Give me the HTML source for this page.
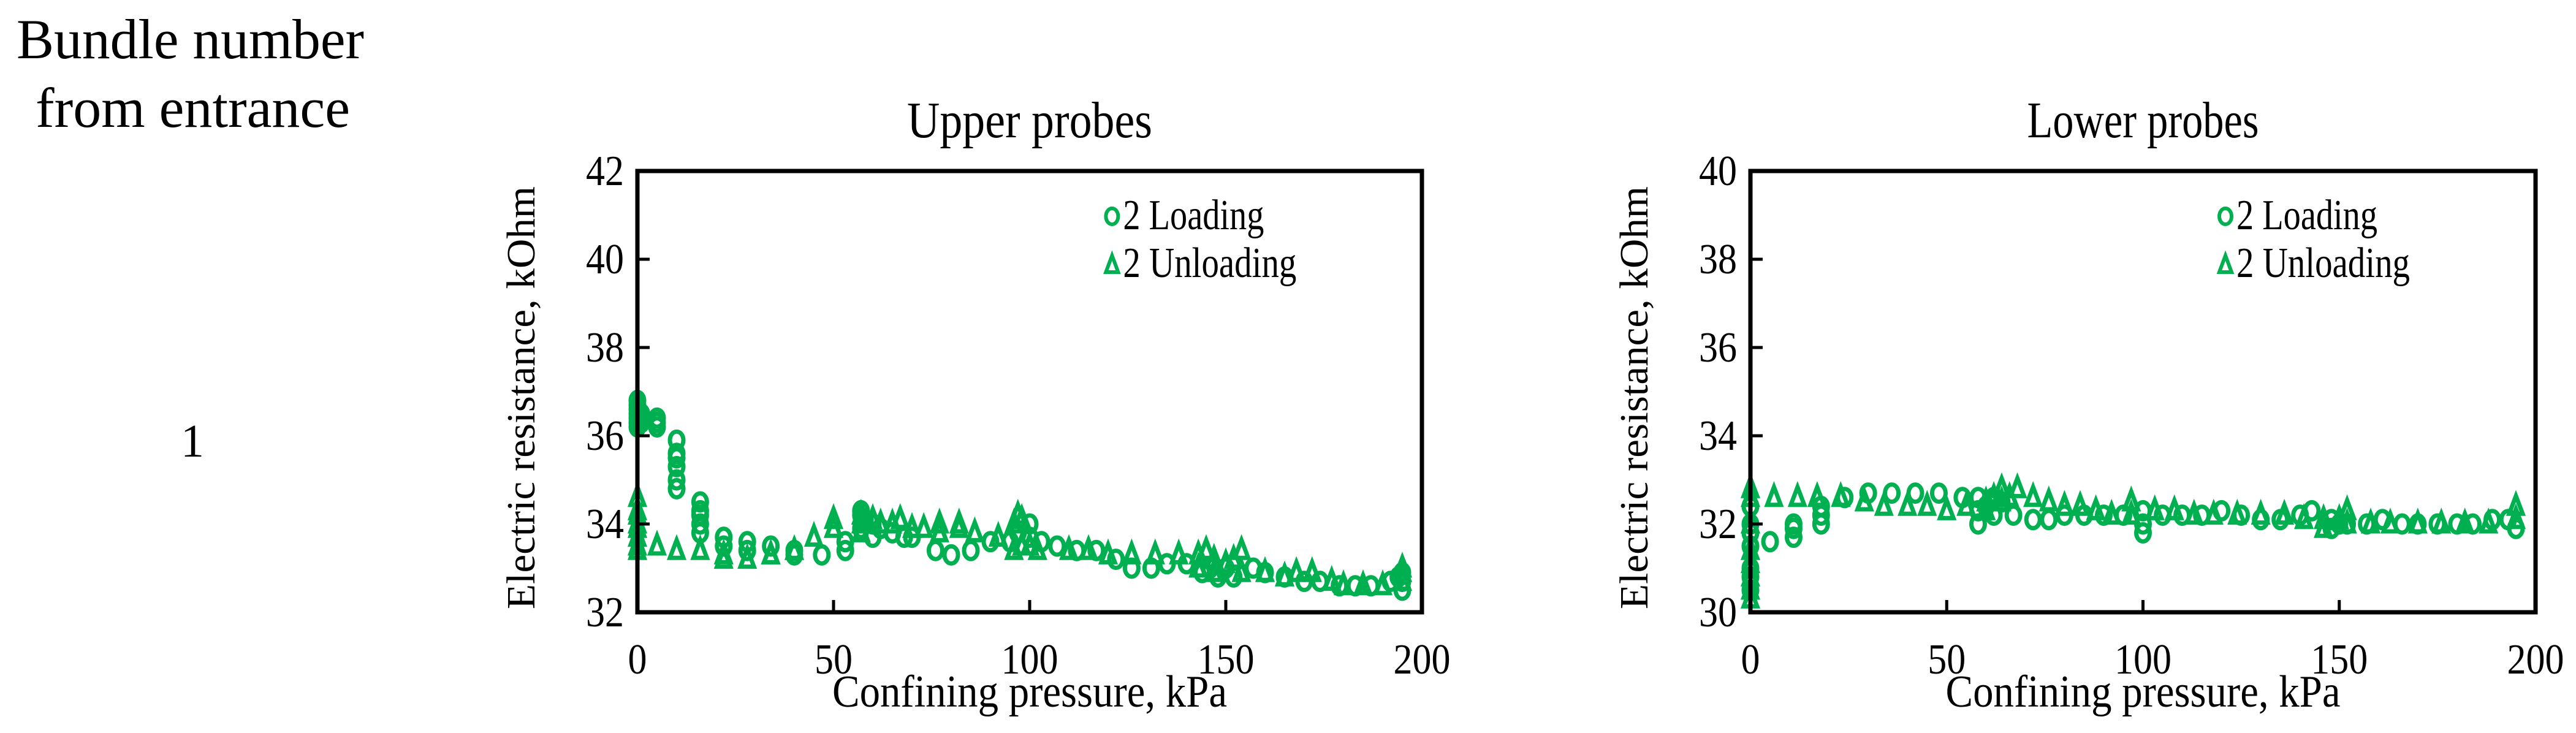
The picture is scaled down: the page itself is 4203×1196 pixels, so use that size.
<!DOCTYPE html>
<html><head><meta charset="utf-8"><style>
html,body{margin:0;padding:0;background:#fff}
svg{display:block}
text{font-family:"Liberation Serif",serif;fill:#000}
</style></head><body>
<svg id="fig" width="4203" height="1196" viewBox="0 0 4203 1196" xmlns="http://www.w3.org/2000/svg">
<text x="27" y="95" font-size="92" textLength="567" lengthAdjust="spacingAndGlyphs">Bundle number</text>
<text x="58" y="207" font-size="92" textLength="513" lengthAdjust="spacingAndGlyphs">from entrance</text>
<text x="314" y="745" font-size="76" text-anchor="middle">1</text>
</svg>
<script>
// Upper probes data
const upLoadX=[0,0,0,0,0,0,0,1,1,5,5,5,10,10,10,10,10,10,16,16,16,16,16,22,22,28,28,34,40,40,47,53,53,57,57,57,58,60,60,62,65,68,70,76,80,85,90,95,97,100,100,103,107,112,117,122,126,131,135,140,144,146,148,150,152,157,160,165,170,174,179,183,187,192,194,195,195,195];
const upLoadY=[36.7,36.5,36.3,36.2,36.6,36.4,36.8,36.5,36.3,36.4,36.2,36.3,35.9,35.6,35.3,35.0,34.8,35.5,34.5,34.2,34.0,33.8,34.3,33.7,33.5,33.6,33.4,33.5,33.4,33.3,33.3,33.4,33.6,34.2,33.9,34.3,34.1,33.7,34.0,33.9,33.8,33.7,33.7,33.4,33.3,33.4,33.6,33.6,33.8,33.7,34.0,33.6,33.5,33.4,33.4,33.2,33.0,33.0,33.1,33.1,32.9,33.0,32.8,33.0,32.8,33.0,32.9,32.8,32.7,32.7,32.6,32.6,32.6,32.7,32.8,32.5,32.7,32.9];
const upUnX=[0,0,0,0,0,0,0,0,5,10,16,22,22,28,34,34,40,45,50,50,57,57,57,58,60,62,65,67,70,73,77,77,82,82,86,92,96,96,97,98,98,100,102,110,115,120,126,132,138,143,143,145,147,147,150,152,154,154,160,165,168,172,177,180,185,190,195,195,195];
const upUnY=[33.4,33.7,34.0,34.3,34.6,33.5,33.9,34.2,33.5,33.4,33.4,33.3,33.2,33.2,33.3,33.3,33.4,33.7,34.1,33.9,34.2,34.0,33.8,34.1,34.1,34.0,34.0,34.1,33.9,33.9,33.8,34.0,34.0,33.9,33.8,33.7,34.0,33.4,34.2,34.1,33.5,33.5,33.4,33.4,33.4,33.3,33.3,33.3,33.3,33.3,33.0,33.4,33.2,32.9,33.1,33.2,33.4,32.9,32.9,32.8,32.9,32.9,32.7,32.6,32.6,32.6,32.9,33.0,32.7];
// Lower probes data
const loLoadX=[0,0,0,0,0,0,0,5,11,11,11,18,18,18,24,30,36,42,48,54,58,58,58,60,62,62,64,67,72,76,80,85,90,95,100,100,100,105,110,115,120,125,130,135,140,143,148,148,150,152,157,161,166,170,175,180,184,189,193,195];
const loLoadY=[30.5,31.0,31.5,32.0,32.4,30.8,31.8,31.6,31.7,31.9,32.0,32.0,32.2,32.4,32.6,32.7,32.7,32.7,32.7,32.6,32.0,32.3,32.6,32.4,32.2,32.6,32.5,32.2,32.1,32.1,32.2,32.2,32.2,32.2,31.8,32.0,32.3,32.2,32.2,32.2,32.3,32.2,32.1,32.1,32.2,32.3,31.9,32.1,32.0,32.0,32.0,32.1,32.0,32.0,32.0,32.0,32.0,32.1,32.1,31.9];
const loUnX=[0,0,0,0,0,0,0,0,6,12,17,23,29,34,40,45,50,55,60,60,62,64,64,66,68,72,76,80,84,88,92,97,97,103,108,113,118,124,130,136,141,146,146,150,152,152,158,163,170,176,182,188,195,195];
const loUnY=[30.3,30.8,31.4,32.0,32.6,32.8,31.1,30.5,32.6,32.6,32.6,32.6,32.5,32.4,32.4,32.4,32.3,32.4,32.5,32.3,32.6,32.8,32.5,32.6,32.8,32.6,32.5,32.4,32.4,32.3,32.2,32.5,32.2,32.3,32.3,32.2,32.2,32.2,32.2,32.2,32.1,32.1,31.9,32.1,32.3,32.0,32.0,32.0,32.0,32.0,32.0,32.0,32.4,32.1];
const xTicks=[0,50,100,150,200];
const upYTicks=[32,34,36,38,40,42];
const loYTicks=[30,32,34,36,38,40];

const NS='http://www.w3.org/2000/svg';
const svg=document.getElementById('fig');
const G='#00b050';
function mk(tag,attrs,parent){const e=document.createElementNS(NS,tag);for(const k in attrs)e.setAttribute(k,attrs[k]);(parent||svg).appendChild(e);return e;}

function panel(key,title,x0,x1,yTicks,lx,ly,ux,uy,tl0){
  const top=279,bot=999,ymin=yTicks[0],ymax=yTicks[yTicks.length-1];
  const sx=v=>x0+(v-0)/(200-0)*(x1-x0);
  const sy=v=>bot-(v-ymin)/(ymax-ymin)*(bot-top);
  const g=mk('g',{});
  
  
  const t=mk('text',{x:(x0+x1)/2,y:224,'font-size':84,'text-anchor':'middle',textLength:tl0,lengthAdjust:'spacingAndGlyphs'},g);
  t.textContent=title;
  
  
  const pts=mk('g',{fill:'none',stroke:G,'stroke-width':7},g);
  
  
  lx.forEach((v,i)=>{const c=mk('ellipse',{cx:sx(v),cy:sy(ly[i]),rx:11,ry:14},pts);
    
    });
  ux.forEach((v,i)=>{const X=sx(v),Y=sy(uy[i]);
    const p=mk('polygon',{points:`${X},${Y-17} ${X-11},${Y+12} ${X+11},${Y+12}`},pts);
    
    });
  const fr=mk('rect',{x:x0,y:top,width:x1-x0,height:bot-top,fill:'none',stroke:'#000','stroke-width':7},g);
  
  
  yTicks.forEach(v=>{
    mk('line',{x1:x0,x2:x0+20,y1:sy(v),y2:sy(v),stroke:'#000','stroke-width':5},g);
    const tl=mk('text',{x:x0-22,y:sy(v)+23,'font-size':70,'text-anchor':'end',textLength:62,lengthAdjust:'spacingAndGlyphs'},g);
    tl.textContent=v;
    
    
  });
  xTicks.forEach(v=>{
    if(v>0&&v<200) mk('line',{x1:sx(v),x2:sx(v),y1:bot,y2:bot-20,stroke:'#000','stroke-width':5},g);
    const s=String(v);
    const tl=mk('text',{x:sx(v),y:1099,'font-size':70,'text-anchor':'middle',textLength:s.length*31,lengthAdjust:'spacingAndGlyphs'},g);
    tl.textContent=s;
    
    
  });
  const xl=mk('text',{x:(x0+x1)/2,y:1153,'font-size':74,'text-anchor':'middle',textLength:644,lengthAdjust:'spacingAndGlyphs'},g);
  xl.textContent='Confining pressure, kPa';
  
  
  const yx=x0-168, yc=(top+bot)/2+10;
  const yl=mk('text',{x:yx,y:yc,'font-size':66,'text-anchor':'middle',transform:`rotate(-90 ${yx} ${yc})`,textLength:690,lengthAdjust:'spacingAndGlyphs'},g);
  yl.textContent='Electric resistance, kOhm';
  
  
  const lgx=x0+(x1-x0)*0.605;
  const leg=mk('g',{},g);
  
  
  mk('ellipse',{cx:lgx,cy:353,rx:10,ry:13,fill:'none',stroke:G,'stroke-width':6},leg);
  const l1=mk('text',{x:lgx+18,y:374,'font-size':70,textLength:230,lengthAdjust:'spacingAndGlyphs'},leg);
  l1.textContent='2 Loading';
  
  
  mk('polygon',{points:`${lgx},${417} ${lgx-10},${444} ${lgx+10},${444}`,fill:'none',stroke:G,'stroke-width':6},leg);
  const l2=mk('text',{x:lgx+18,y:452,'font-size':70,textLength:283,lengthAdjust:'spacingAndGlyphs'},leg);
  l2.textContent='2 Unloading';
  
  
}
panel('upper-probes','Upper probes',1040,2320,upYTicks,upLoadX,upLoadY,upUnX,upUnY,400);
panel('lower-probes','Lower probes',2856,4137,loYTicks,loLoadX,loLoadY,loUnX,loUnY,378);
</script>
</body></html>
